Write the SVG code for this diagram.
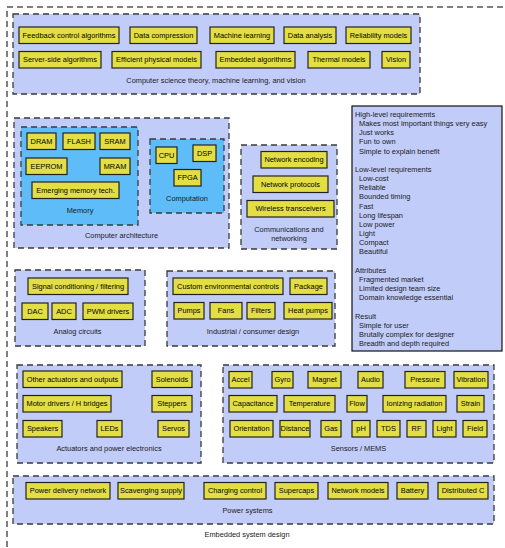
<svg xmlns="http://www.w3.org/2000/svg" width="505" height="548" viewBox="0 0 505 548">
<style>
text{font-family:"Liberation Sans",Arial,sans-serif;font-size:7.4px;fill:#1a1a1a}
.n text{text-anchor:middle;fill:#000}
.n rect{fill:#e3de44;stroke:#222;stroke-width:1.2}
.g{fill:#c2ccf9;stroke:#3a3a3a;stroke-width:1.3;stroke-dasharray:6 4}
.s{fill:#5ebcf8;stroke:#3a3a3a;stroke-width:1.3;stroke-dasharray:6 4}
.lbl{text-anchor:middle}
</style>
<rect x="7" y="7" width="530" height="570" fill="none" stroke="#000" stroke-width="1" stroke-dasharray="6 4"/>
<text class="lbl" x="247" y="537">Embedded system design</text>

<g id="cs">
<rect class="g" x="13" y="14" width="407" height="80"/>
<text class="lbl" x="216" y="82.6">Computer science theory, machine learning, and vision</text>
</g>
<g id="n_feedback" class="n"><rect x="19" y="27" width="100" height="16.5"/><text x="69" y="37.9">Feedback control algorithms</text></g>
<g id="n_datacomp" class="n"><rect x="130" y="27" width="67" height="16.5"/><text x="163.5" y="37.9">Data compression</text></g>
<g id="n_ml" class="n"><rect x="210" y="27" width="64" height="16.5"/><text x="242" y="37.9">Machine learning</text></g>
<g id="n_da" class="n"><rect x="284" y="27" width="52" height="16.5"/><text x="310" y="37.9">Data analysis</text></g>
<g id="n_rel" class="n"><rect x="346" y="27" width="65" height="16.5"/><text x="378.5" y="37.9">Reliability models</text></g>
<g id="n_server" class="n"><rect x="19" y="51.5" width="82" height="16.5"/><text x="60" y="62.4">Server-side algorithms</text></g>
<g id="n_eff" class="n"><rect x="112" y="51.5" width="89" height="16.5"/><text x="156.5" y="62.4">Efficient physical models</text></g>
<g id="n_emb" class="n"><rect x="216" y="51.5" width="79" height="16.5"/><text x="255.5" y="62.4">Embedded algorithms</text></g>
<g id="n_therm" class="n"><rect x="308" y="51.5" width="62" height="16.5"/><text x="339" y="62.4">Thermal models</text></g>
<g id="n_vision" class="n"><rect x="382" y="51.5" width="28" height="16.5"/><text x="396" y="62.4">Vision</text></g>

<g id="arch">
<rect class="g" x="14" y="118" width="215" height="130"/>
<text class="lbl" x="121.5" y="237.6">Computer architecture</text>
</g>
<g id="memory">
<rect class="s" x="21" y="127" width="117" height="98"/>
<text class="lbl" x="80" y="213">Memory</text>
</g>
<g id="n_dram" class="n"><rect x="27" y="133" width="29" height="16.5"/><text x="41.5" y="143.9">DRAM</text></g>
<g id="n_flash" class="n"><rect x="63" y="133" width="32" height="16.5"/><text x="79" y="143.9">FLASH</text></g>
<g id="n_sram" class="n"><rect x="100" y="133" width="30" height="16.5"/><text x="115" y="143.9">SRAM</text></g>
<g id="n_eeprom" class="n"><rect x="26" y="158" width="41" height="16.5"/><text x="46.5" y="168.9">EEPROM</text></g>
<g id="n_mram" class="n"><rect x="100" y="158" width="30" height="16.5"/><text x="115" y="168.9">MRAM</text></g>
<g id="n_emerg" class="n"><rect x="32" y="182" width="87" height="16.5"/><text x="75.5" y="192.9">Emerging memory tech.</text></g>
<g id="computation">
<rect class="s" x="150" y="139" width="74" height="74"/>
<text class="lbl" x="187" y="201">Computation</text>
</g>
<g id="n_cpu" class="n"><rect x="156" y="147" width="21" height="16.5"/><text x="166.5" y="157.9">CPU</text></g>
<g id="n_dsp" class="n"><rect x="193" y="145" width="23" height="16.5"/><text x="204.5" y="155.9">DSP</text></g>
<g id="n_fpga" class="n"><rect x="174" y="169.5" width="27" height="16.5"/><text x="187.5" y="180.4">FPGA</text></g>

<g id="comms">
<rect class="g" x="241" y="145" width="96" height="104"/>
<text class="lbl" x="289" y="231.6">Communications and</text>
<text class="lbl" x="289" y="241">networking</text>
</g>
<g id="n_netenc" class="n"><rect x="261" y="151.5" width="66" height="16.5"/><text x="294" y="162.4">Network encoding</text></g>
<g id="n_netprot" class="n"><rect x="253" y="176" width="75" height="16.5"/><text x="290.5" y="186.9">Network protocols</text></g>
<g id="n_wireless" class="n"><rect x="247" y="200.5" width="87" height="16.5"/><text x="290.5" y="211.4">Wireless transceivers</text></g>

<g id="info">
<rect x="352" y="106" width="150" height="245" fill="#c2ccf9" stroke="#111" stroke-width="1.2"/>
<text x="355" y="116.9">High-level requirememts</text>
<text x="359" y="126.1">Makes most important things very easy</text>
<text x="359" y="135.2">Just works</text>
<text x="359" y="144.4">Fun to own</text>
<text x="359" y="153.6">Simple to explain benefit</text>
<text x="355" y="171.9">Low-level requirements</text>
<text x="359" y="181.1">Low-cost</text>
<text x="359" y="190.2">Reliable</text>
<text x="359" y="199.4">Bounded timing</text>
<text x="359" y="208.6">Fast</text>
<text x="359" y="217.7">Long lifespan</text>
<text x="359" y="226.9">Low power</text>
<text x="359" y="236.1">Light</text>
<text x="359" y="245.2">Compact</text>
<text x="359" y="254.4">Beautiful</text>
<text x="355" y="272.7">Attributes</text>
<text x="359" y="281.9">Fragmented market</text>
<text x="359" y="291.1">Limited design team size</text>
<text x="359" y="300.2">Domain knowledge essential</text>
<text x="355" y="318.6">Result</text>
<text x="359" y="327.7">Simple for user</text>
<text x="359" y="336.9">Brutally complex for designer</text>
<text x="359" y="346.1">Breadth and depth required</text>
</g>

<g id="analog">
<rect class="g" x="15" y="270" width="130" height="76"/>
<text class="lbl" x="77.5" y="334">Analog circuits</text>
</g>
<g id="n_signal" class="n"><rect x="28" y="278" width="100" height="16.5"/><text x="78" y="288.9">Signal conditioning / filtering</text></g>
<g id="n_dac" class="n"><rect x="22" y="303" width="26" height="16.5"/><text x="35" y="313.9">DAC</text></g>
<g id="n_adc" class="n"><rect x="52" y="303" width="24" height="16.5"/><text x="64" y="313.9">ADC</text></g>
<g id="n_pwm" class="n"><rect x="83" y="303" width="50" height="16.5"/><text x="108" y="313.9">PWM drivers</text></g>

<g id="industrial">
<rect class="g" x="167" y="271" width="168" height="75"/>
<text class="lbl" x="253" y="334">Industrial / consumer design</text>
</g>
<g id="n_custom" class="n"><rect x="173" y="278" width="110" height="16.5"/><text x="228" y="288.9">Custom environmental controls</text></g>
<g id="n_package" class="n"><rect x="290" y="278" width="37" height="16.5"/><text x="308.5" y="288.9">Package</text></g>
<g id="n_pumps" class="n"><rect x="174" y="302.5" width="30" height="16.5"/><text x="189" y="313.4">Pumps</text></g>
<g id="n_fans" class="n"><rect x="210" y="302.5" width="32" height="16.5"/><text x="226" y="313.4">Fans</text></g>
<g id="n_filters" class="n"><rect x="247" y="302.5" width="28" height="16.5"/><text x="261" y="313.4">Filters</text></g>
<g id="n_heat" class="n"><rect x="284" y="302.5" width="48" height="16.5"/><text x="308" y="313.4">Heat pumps</text></g>

<g id="actuators">
<rect class="g" x="17" y="365" width="184" height="98"/>
<text class="lbl" x="109" y="451">Actuators and power electronics</text>
</g>
<g id="n_other" class="n"><rect x="23" y="371" width="99" height="16.5"/><text x="72.5" y="381.9">Other actuators and outputs</text></g>
<g id="n_solenoids" class="n"><rect x="152" y="371" width="40" height="16.5"/><text x="172" y="381.9">Solenoids</text></g>
<g id="n_motor" class="n"><rect x="23" y="395.5" width="88" height="16.5"/><text x="67" y="406.4">Motor drivers / H bridges</text></g>
<g id="n_steppers" class="n"><rect x="152" y="395.5" width="40" height="16.5"/><text x="172" y="406.4">Steppers</text></g>
<g id="n_speakers" class="n"><rect x="23" y="420.5" width="39" height="16.5"/><text x="42.5" y="431.4">Speakers</text></g>
<g id="n_leds" class="n"><rect x="97" y="420.5" width="25" height="16.5"/><text x="109.5" y="431.4">LEDs</text></g>
<g id="n_servos" class="n"><rect x="158" y="420.5" width="31" height="16.5"/><text x="173.5" y="431.4">Servos</text></g>

<g id="sensors">
<rect class="g" x="223" y="365" width="271" height="98"/>
<text class="lbl" x="358.5" y="451">Sensors / MEMS</text>
</g>
<g id="n_accel" class="n"><rect x="229" y="371.5" width="23" height="16.5"/><text x="240.5" y="382.4">Accel</text></g>
<g id="n_gyro" class="n"><rect x="272" y="371.5" width="21" height="16.5"/><text x="282.5" y="382.4">Gyro</text></g>
<g id="n_magnet" class="n"><rect x="308" y="371.5" width="33" height="16.5"/><text x="324.5" y="382.4">Magnet</text></g>
<g id="n_audio" class="n"><rect x="358" y="371.5" width="25" height="16.5"/><text x="370.5" y="382.4">Audio</text></g>
<g id="n_pressure" class="n"><rect x="405" y="371.5" width="40" height="16.5"/><text x="425" y="382.4">Pressure</text></g>
<g id="n_vibration" class="n"><rect x="454" y="371.5" width="34" height="16.5"/><text x="471" y="382.4">Vibration</text></g>
<g id="n_cap" class="n"><rect x="229" y="395.5" width="48" height="16.5"/><text x="253" y="406.4">Capacitance</text></g>
<g id="n_temp" class="n"><rect x="284" y="395.5" width="51" height="16.5"/><text x="309.5" y="406.4">Temperature</text></g>
<g id="n_flow" class="n"><rect x="347" y="395.5" width="20" height="16.5"/><text x="357" y="406.4">Flow</text></g>
<g id="n_ion" class="n"><rect x="383" y="395.5" width="63" height="16.5"/><text x="414.5" y="406.4">Ionizing radiation</text></g>
<g id="n_strain" class="n"><rect x="457" y="395.5" width="27" height="16.5"/><text x="470.5" y="406.4">Strain</text></g>
<g id="n_orient" class="n"><rect x="230" y="420.5" width="43" height="16.5"/><text x="251.5" y="431.4">Orientation</text></g>
<g id="n_dist" class="n"><rect x="280" y="420.5" width="30" height="16.5"/><text x="295" y="431.4">Distance</text></g>
<g id="n_gas" class="n"><rect x="321" y="420.5" width="20" height="16.5"/><text x="331" y="431.4">Gas</text></g>
<g id="n_ph" class="n"><rect x="352" y="420.5" width="18" height="16.5"/><text x="361" y="431.4">pH</text></g>
<g id="n_tds" class="n"><rect x="377" y="420.5" width="23" height="16.5"/><text x="388.5" y="431.4">TDS</text></g>
<g id="n_rf" class="n"><rect x="407" y="420.5" width="19" height="16.5"/><text x="416.5" y="431.4">RF</text></g>
<g id="n_light" class="n"><rect x="433" y="420.5" width="23" height="16.5"/><text x="444.5" y="431.4">Light</text></g>
<g id="n_field" class="n"><rect x="463" y="420.5" width="24" height="16.5"/><text x="475" y="431.4">Field</text></g>

<g id="power">
<rect class="g" x="13" y="476" width="481" height="48"/>
<text class="lbl" x="247.5" y="513">Power systems</text>
</g>
<g id="n_pdn" class="n"><rect x="26" y="482.5" width="84" height="16.5"/><text x="68" y="493.4">Power delivery network</text></g>
<g id="n_scav" class="n"><rect x="118" y="482.5" width="66" height="16.5"/><text x="151" y="493.4">Scavenging supply</text></g>
<g id="n_charge" class="n"><rect x="204" y="482.5" width="62" height="16.5"/><text x="235" y="493.4">Charging control</text></g>
<g id="n_supercaps" class="n"><rect x="275" y="482.5" width="43" height="16.5"/><text x="296.5" y="493.4">Supercaps</text></g>
<g id="n_netmodels" class="n"><rect x="328" y="482.5" width="60" height="16.5"/><text x="358" y="493.4">Network models</text></g>
<g id="n_battery" class="n"><rect x="397" y="482.5" width="31" height="16.5"/><text x="412.5" y="493.4">Battery</text></g>
<g id="n_distc" class="n"><rect x="438" y="482.5" width="50" height="16.5"/><text x="463" y="493.4">Distributed C</text></g>
</svg>
